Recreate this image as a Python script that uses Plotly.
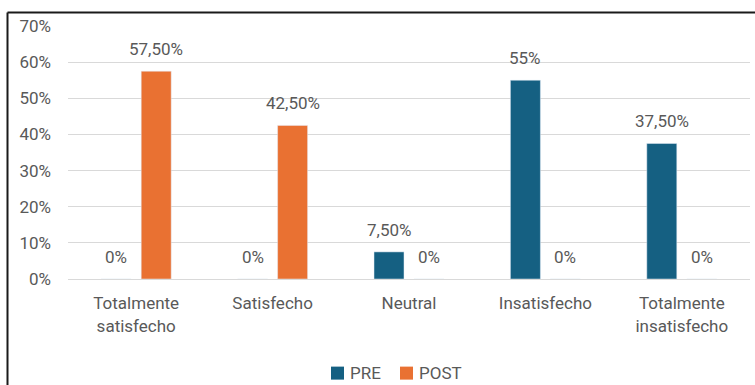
import plotly.graph_objects as go

categories = ["Totalmente<br>satisfecho", "Satisfecho", "Neutral", "Insatisfecho", "Totalmente<br>insatisfecho"]
pre_values = [0, 0, 7.5, 55, 37.5]
post_values = [57.5, 42.5, 0, 0, 0]
pre_labels = ["0%", "0%", "7,50%", "55%", "37,50%"]
post_labels = ["57,50%", "42,50%", "0%", "0%", "0%"]
y_ticks = [0, 10, 20, 30, 40, 50, 60, 70]
y_tick_labels = ["0%", "10%", "20%", "30%", "40%", "50%", "60%", "70%"]
series_names = ["PRE", "POST"]

PRE_C = "#156082"
POST_C = "#E97132"
TXT = "#595959"
FONT = "Roboto"
FS = 17
PW = 682  # plot width px
PH = 253  # plot height px

fig = go.Figure()
fig.add_trace(go.Bar(x=categories, y=pre_values, name=series_names[0], marker_color=PRE_C, showlegend=False))
fig.add_trace(go.Bar(x=categories, y=post_values, name=series_names[1], marker_color=POST_C, showlegend=False))

# data labels as annotations from data
for i, c in enumerate(categories):
    fig.add_annotation(x=c, y=pre_values[i], text=pre_labels[i], showarrow=False,
                       xshift=-20, yshift=22, yanchor="middle",
                       font=dict(family=FONT, size=FS, color=TXT))
    fig.add_annotation(x=c, y=post_values[i], text=post_labels[i], showarrow=False,
                       xshift=20, yshift=22, yanchor="middle",
                       font=dict(family=FONT, size=FS, color=TXT))

# manual legend (tight Excel-like layout)
leg_y = -0.372
for name, col, xpx in [(series_names[0], PRE_C, 331), (series_names[1], POST_C, 400)]:
    x0 = (xpx - 68) / PW
    fig.add_shape(type="rect", xref="paper", yref="paper",
                  x0=x0, x1=x0 + 13 / PW, y0=leg_y - 6.5 / PH, y1=leg_y + 6.5 / PH,
                  fillcolor=col, line=dict(width=0))
    fig.add_annotation(xref="paper", yref="paper", x=x0 + 17 / PW, y=leg_y, text=name,
                       showarrow=False, xanchor="left", yanchor="middle",
                       font=dict(family=FONT, size=FS, color=TXT))

# border (partial frame visible in reference)
bx = (7.5 - 68) / PW
by = (279 - 12.5) / PH
fig.add_shape(type="line", xref="paper", yref="paper", x0=bx, x1=1.2, y0=by, y1=by,
              line=dict(color="#1a1a1a", width=2))
fig.add_shape(type="line", xref="paper", yref="paper", x0=bx, x1=bx, y0=by, y1=-0.6,
              line=dict(color="#1a1a1a", width=2))

fig.update_layout(
    width=755, height=385,
    margin=dict(l=68, r=5, t=26, b=106, autoexpand=False),
    paper_bgcolor="white", plot_bgcolor="white",
    barmode="group", bargap=0.4135, bargroupgap=0.25,
    font=dict(family=FONT, size=FS, color=TXT),
    showlegend=False,
    xaxis=dict(showgrid=False, showline=True, linecolor="#D9D9D9", linewidth=1,
               ticks="", ticklabelstandoff=9, automargin=False,
               tickfont=dict(family=FONT, size=FS, color=TXT)),
    yaxis=dict(range=[0, 70], tickvals=y_ticks, ticktext=y_tick_labels,
               showgrid=True, gridcolor="#D9D9D9", gridwidth=1, zeroline=False,
               showline=False, ticks="", ticklabelstandoff=16, automargin=False,
               tickfont=dict(family=FONT, size=FS, color=TXT)),
)

fig.write_html("out.html")
